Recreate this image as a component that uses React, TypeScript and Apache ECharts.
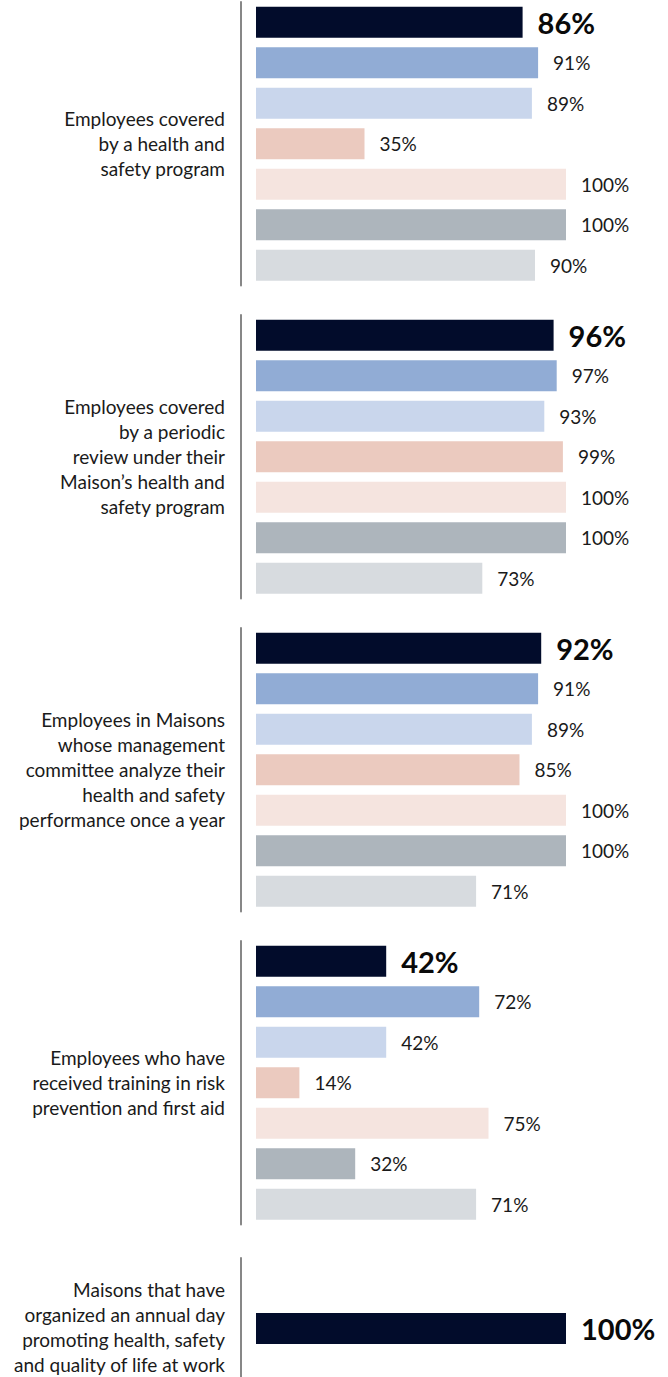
import React, { useEffect, useRef } from "react";
import * as echarts from "echarts";

const groupLabels: string[] = [
  "Employees covered\nby a health and\nsafety program",
  "Employees covered\nby a periodic\nreview under their\nMaison’s health and\nsafety program",
  "Employees in Maisons\nwhose management\ncommittee analyze their\nhealth and safety\nperformance once a year",
  "Employees who have\nreceived training in risk\nprevention and first aid",
  "Maisons that have\norganized an annual day\npromoting health, safety\nand quality of life at work",
];

const categories: string[] = ["A", "B", "C", "D", "E", "F", "G"];

const group1: number[] = [86, 91, 89, 35, 100, 100, 90];
const group2: number[] = [96, 97, 93, 99, 100, 100, 73];
const group3: number[] = [92, 91, 89, 85, 100, 100, 71];
const group4: number[] = [42, 72, 42, 14, 75, 32, 71];
const group5: number[] = [100];

const groups: number[][] = [group1, group2, group3, group4, group5];

const barColors: string[] = [
  "#020c2b",
  "#91acd5",
  "#c9d6ec",
  "#ebcabf",
  "#f5e4df",
  "#adb5bc",
  "#d7dbdf",
];

const FONT = "Lato";

export default function App() {
  const ref = useRef<HTMLDivElement>(null);

  useEffect(() => {
    if (!ref.current) return;
    const chart = echarts.init(ref.current, undefined, { renderer: "svg" });

    const grids: any[] = [];
    const xAxes: any[] = [];
    const yAxes: any[] = [];
    const series: any[] = [];
    const graphics: any[] = [];

    groups.forEach((vals, gi) => {
      const isLast = gi === groups.length - 1;
      const top = isLast ? 1258 : 2 + 313 * gi;
      const height = isLast ? 141 : 283.5;
      grids.push({ left: 256, width: 310, top, height, containLabel: false });
      xAxes.push({
        type: "value",
        gridIndex: gi,
        min: 0,
        max: 100,
        show: false,
      });
      yAxes.push({
        type: "category",
        gridIndex: gi,
        inverse: true,
        data: categories.slice(0, vals.length),
        offset: 15,
        axisLine: {
          show: true,
          onZero: false,
          lineStyle: { color: "#7a7a7a", width: 1.8 },
        },
        axisTick: { show: false },
        axisLabel: { show: false },
        splitLine: { show: false },
      });
      series.push({
        type: "bar",
        xAxisIndex: gi,
        yAxisIndex: gi,
        barWidth: 31,
        data: vals.map((v, i) => ({
          value: v,
          itemStyle: { color: barColors[i] },
          label:
            i === 0
              ? { fontSize: 29, fontWeight: "bold", color: "#0a0a0a" }
              : { fontSize: 19, fontWeight: "normal", color: "#1a1a1a" },
        })),
        label: {
          show: true,
          position: "right",
          distance: 15,
          fontFamily: FONT,
          formatter: "{c}%",
        },
      });
      const centerY = isLast ? 1327 : top + height / 2;
      graphics.push({
        type: "text",
        x: 225,
        y: centerY,
        style: {
          text: groupLabels[gi],
          align: "right",
          verticalAlign: "middle",
          fontFamily: FONT,
          fontSize: 19,
          lineHeight: 25,
          fill: "#1a1a1a",
        },
      });
    });

    chart.setOption({
      animation: false,
      backgroundColor: "#ffffff",
      grid: grids,
      xAxis: xAxes,
      yAxis: yAxes,
      series,
      graphic: graphics,
    });

    return () => chart.dispose();
  }, []);

  return (
    <div
      style={{
        position: "absolute",
        left: 0,
        top: 0,
        width: 668,
        height: 1377,
        overflow: "hidden",
      }}
    >
      <div ref={ref} style={{ width: 668, height: 1400 }} />
    </div>
  );
}
